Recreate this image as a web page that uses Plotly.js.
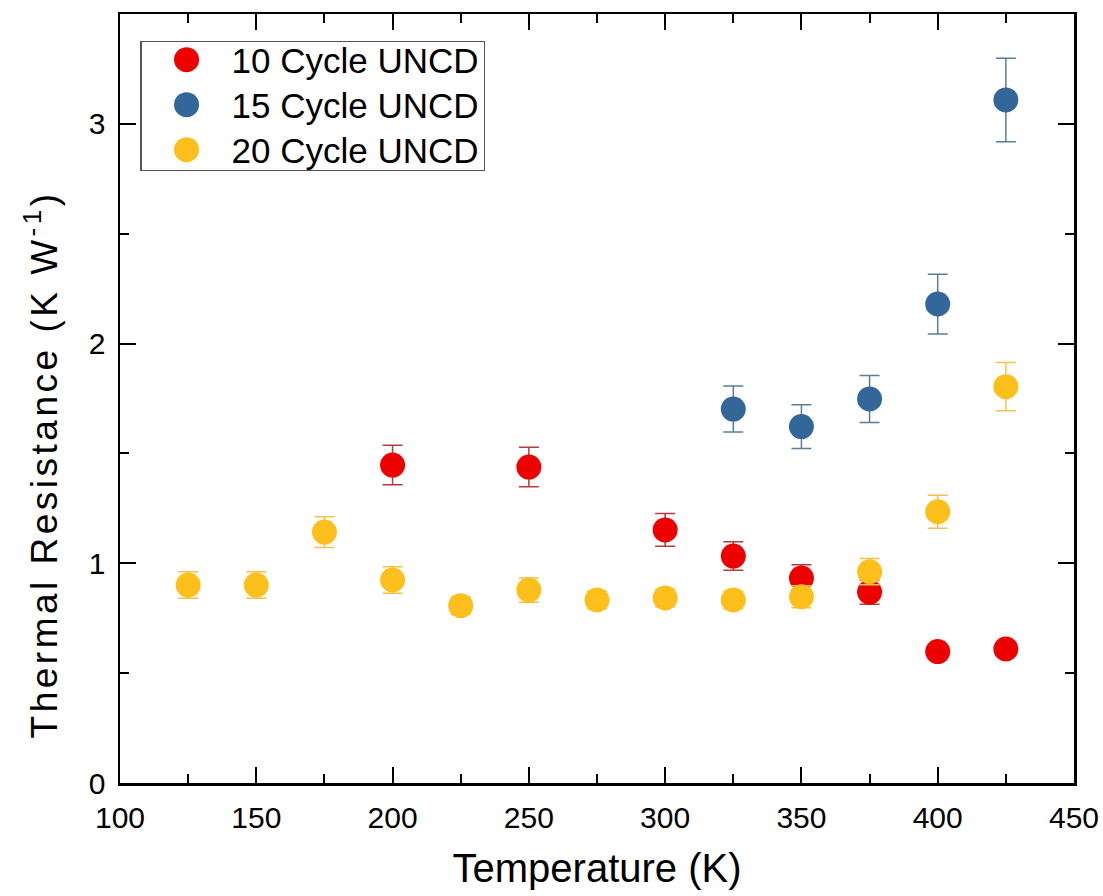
<!DOCTYPE html>
<html>
<head>
<meta charset="utf-8">
<script src="https://cdn.plot.ly/plotly-3.0.1.min.js"></script>
<style>
  html, body { margin: 0; padding: 0; background: #fff; }
  #chart { width: 1103px; height: 896px; }
  .annotation-text { letter-spacing: 3.5px; }
</style>
</head>
<body>
<div id="chart"></div>
<script>
// ---- data ----
const seriesNames = ["10 Cycle UNCD", "15 Cycle UNCD", "20 Cycle UNCD"];

const temp10 = [200, 250, 300, 325, 350, 375, 400, 425];
const res10  = [1.447, 1.438, 1.152, 1.033, 0.933, 0.869, 0.598, 0.610];
const err10  = [0.090, 0.090, 0.075, 0.065, 0.060, 0.055, 0.030, 0.030];

const temp15 = [325, 350, 375, 400, 425];
const res15  = [1.702, 1.622, 1.748, 2.180, 3.109];
const err15  = [0.105, 0.100, 0.107, 0.136, 0.190];

const temp20 = [125, 150, 175, 200, 225, 250, 275, 300, 325, 350, 375, 400, 425];
const res20  = [0.901, 0.901, 1.142, 0.924, 0.807, 0.878, 0.833, 0.842, 0.833, 0.848, 0.962, 1.235, 1.804];
const err20  = [0.060, 0.060, 0.070, 0.060, 0.040, 0.055, 0.040, 0.040, 0.040, 0.050, 0.060, 0.075, 0.110];

const xTickVals = [100, 150, 200, 250, 300, 350, 400, 450];
const yTickVals = [0, 1, 2, 3];

const markerColors = ["#ee0000", "#336699", "#fdbf1c"];
const errColors    = ["#b83a3a", "#5a7d9c", "#f2c24a"];

function makeTrace(x, y, e, i) {
  return {
    type: "scatter",
    mode: "markers",
    name: seriesNames[i],
    x: x, y: y,
    error_y: { type: "data", array: e, visible: true, color: errColors[i], thickness: 1.5, width: 10 },
    marker: { size: 25, color: markerColors[i], line: { width: 0 } }
  };
}

const data = [
  makeTrace(temp10, res10, err10, 0),
  makeTrace(temp15, res15, err15, 1),
  makeTrace(temp20, res20, err20, 2)
];

const fontFam = "Arial, 'Liberation Sans', sans-serif";

const axisCommon = {
  showgrid: false,
  zeroline: false,
  showline: true,
  linecolor: "#000",
  linewidth: 2.5,
  mirror: "ticks",
  ticks: "inside",
  ticklen: 16,
  tickwidth: 2,
  tickcolor: "#000",
  tickfont: { family: fontFam, size: 30, color: "#000" },
  automargin: false
};

const layout = {
  width: 1103,
  height: 896,
  paper_bgcolor: "#fff",
  plot_bgcolor: "#fff",
  margin: { l: 120, r: 29, t: 14, b: 113 },
  showlegend: true,
  legend: {
    x: 0.021, y: 0.965, xanchor: "left", yanchor: "top",
    bgcolor: "#fff",
    bordercolor: "#555",
    borderwidth: 1.5,
    itemwidth: 80,
    font: { family: fontFam, size: 35, color: "#000" },
    tracegroupgap: 0
  },
  xaxis: Object.assign({}, axisCommon, {
    range: [100, 450],
    tickmode: "array",
    tickvals: xTickVals,
    ticktext: xTickVals.map(String),
    ticklabelstandoff: 6,
    minor: { dtick: 25, tick0: 100, ticklen: 9, tickwidth: 2, tickcolor: "#000", ticks: "inside" },
    title: { text: "Temperature (K)", font: { family: fontFam, size: 40, color: "#000" }, standoff: 22 }
  }),
  yaxis: Object.assign({}, axisCommon, {
    range: [0, 3.5],
    tickmode: "array",
    tickvals: yTickVals,
    ticktext: yTickVals.map(String),
    ticklabelstandoff: 6,
    minor: { dtick: 0.5, tick0: 0, ticklen: 9, tickwidth: 2, tickcolor: "#000", ticks: "inside" }
  }),
  annotations: [{
    text: "Thermal Resistance (K W<sup>-1</sup>)",
    xref: "paper", yref: "paper",
    x: -0.082, y: 0.414,
    xanchor: "center", yanchor: "middle",
    textangle: -90,
    showarrow: false,
    font: { family: fontFam, size: 37, color: "#000" }
  }]
};

Plotly.newPlot("chart", data, layout, { displayModeBar: false, staticPlot: true }).then(function () {
  // enlarge legend symbols to match plotted marker size
  document.querySelectorAll(".legend .legendpoints path.scatterpts").forEach(function (p) {
    p.setAttribute("d", "M12.5,0A12.5,12.5 0 1,1 0,-12.5A12.5,12.5 0 0,1 12.5,0Z");
  });
  // tighten legend rows to match the reference spacing
  const items = document.querySelectorAll(".legend .traces");
  const re = /translate\(\s*([-\d.eE]+)[ ,]+([-\d.eE]+)\s*\)/;
  let y0 = null;
  items.forEach(function (g, i) {
    const m = re.exec(g.getAttribute("transform") || "");
    if (!m) return;
    if (y0 === null) y0 = parseFloat(m[2]);
    g.setAttribute("transform", "translate(" + m[1] + "," + (y0 - 12 + 45 * i) + ")");
  });
  const bg = document.querySelector(".legend rect.bg");
  if (bg) bg.setAttribute("height", 129);
});
</script>
</body>
</html>
